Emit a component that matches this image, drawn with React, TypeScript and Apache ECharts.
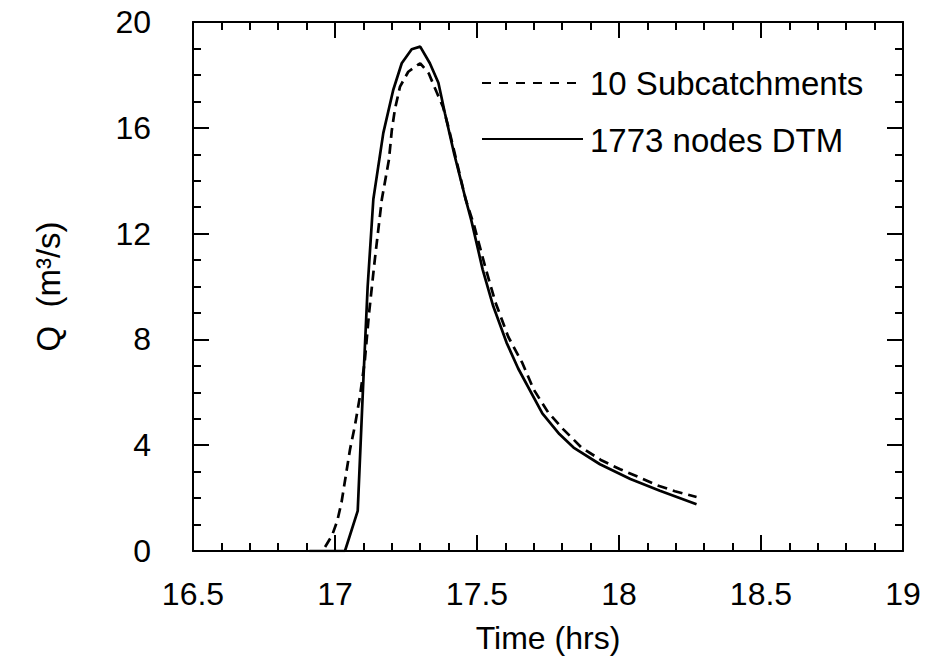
import React, { useEffect, useRef } from "react";
import * as echarts from "echarts";

const timeSub = [16.965, 16.99, 17.008, 17.023, 17.053, 17.07, 17.088, 17.105, 17.12, 17.14, 17.165, 17.19, 17.2, 17.211, 17.229, 17.258, 17.3, 17.33, 17.357, 17.38, 17.4, 17.42, 17.46, 17.49, 17.53, 17.565, 17.61, 17.66, 17.7, 17.75, 17.804, 17.868, 17.938, 18.004, 18.068, 18.133, 18.197, 18.273];
const qSub = [0.15, 0.6, 1.14, 1.84, 3.85, 4.73, 5.86, 7.2, 9.0, 11.0, 13.3, 14.8, 15.9, 16.7, 17.56, 18.12, 18.44, 18.06, 17.37, 16.8, 16.0, 15.1, 13.3, 12.3, 10.7, 9.4, 8.1, 7.1, 6.1, 5.25, 4.6, 3.91, 3.43, 3.09, 2.8, 2.49, 2.26, 2.04];

const timeDtm = [16.91, 17.035, 17.08, 17.1, 17.115, 17.135, 17.17, 17.205, 17.235, 17.27, 17.3, 17.334, 17.364, 17.387, 17.42, 17.46, 17.48, 17.52, 17.557, 17.604, 17.645, 17.73, 17.79, 17.84, 17.933, 18.04, 18.144, 18.273];
const qDtm = [0, 0, 1.52, 6.5, 10.0, 13.3, 15.8, 17.43, 18.44, 18.97, 19.07, 18.44, 17.7, 16.55, 15.0, 13.3, 12.5, 10.64, 9.26, 7.88, 6.9, 5.2, 4.42, 3.91, 3.28, 2.72, 2.28, 1.77];

const seriesNames = ["10 Subcatchments", "1773 nodes DTM"];
const xTitle = "Time (hrs)";
const yTitle = "Q  (m³/s)";

const FONT = "'Liberation Sans', Arial, Helvetica, sans-serif";

export default function App() {
  const ref = useRef<HTMLDivElement>(null);
  useEffect(() => {
    if (!ref.current) return;
    const chart = echarts.init(ref.current, undefined, { renderer: "svg" });
    const axisCommon = {
      axisLine: { show: true, onZero: false, lineStyle: { color: "#000", width: 2 } },
      axisTick: { show: true, inside: true, length: 16, lineStyle: { color: "#000", width: 2 } },
      minorTick: { show: true, length: 8, lineStyle: { color: "#000", width: 2 } },
      splitLine: { show: false },
    };
    chart.setOption({
      animation: false,
      backgroundColor: "#fff",
      grid: { left: 193, right: 22, top: 22, bottom: 107, containLabel: false },
      xAxis: [
        {
          type: "value", min: 16.5, max: 19, interval: 0.5,
          ...axisCommon,
          minorTick: { ...axisCommon.minorTick, splitNumber: 5 },
          axisLabel: { color: "#000", fontSize: 32, fontFamily: FONT, margin: 27 },
          name: xTitle, nameLocation: "middle", nameGap: 71,
          nameTextStyle: { color: "#000", fontSize: 32, fontFamily: FONT },
        },
        {
          type: "value", position: "top", min: 16.5, max: 19, interval: 0.5,
          ...axisCommon,
          minorTick: { ...axisCommon.minorTick, splitNumber: 5 },
          axisLabel: { show: false },
        },
      ],
      yAxis: [
        {
          type: "value", min: 0, max: 20, interval: 4,
          ...axisCommon,
          minorTick: { ...axisCommon.minorTick, splitNumber: 4 },
          axisLabel: { color: "#000", fontSize: 32, fontFamily: FONT, margin: 42 },
          name: yTitle, nameLocation: "middle", nameGap: 128,
          nameTextStyle: { color: "#000", fontSize: 33, fontFamily: FONT },
        },
        {
          type: "value", position: "right", min: 0, max: 20, interval: 4,
          ...axisCommon,
          minorTick: { ...axisCommon.minorTick, splitNumber: 4 },
          axisLabel: { show: false },
        },
      ],
      series: [
        {
          name: seriesNames[0], type: "line", showSymbol: false, symbol: "none",
          data: timeSub.map((t, i) => [t, qSub[i]]),
          lineStyle: { color: "#000", width: 2.7, type: [10, 6] },
        },
        {
          name: seriesNames[1], type: "line", showSymbol: false, symbol: "none",
          data: timeDtm.map((t, i) => [t, qDtm[i]]),
          lineStyle: { color: "#000", width: 2.7, type: "solid" },
        },
      ],
      graphic: [
        { type: "line", shape: { x1: 482, y1: 83, x2: 583, y2: 83 }, style: { stroke: "#000", lineWidth: 2, lineDash: [9, 8] } },
        { type: "text", x: 590, y: 83, style: { text: seriesNames[0], fill: "#000", font: `33px ${FONT}`, verticalAlign: "middle" } },
        { type: "line", shape: { x1: 482, y1: 139, x2: 583, y2: 139 }, style: { stroke: "#000", lineWidth: 2 } },
        { type: "text", x: 590, y: 140, style: { text: seriesNames[1], fill: "#000", font: `33px ${FONT}`, verticalAlign: "middle" } },
      ],
    });
    return () => chart.dispose();
  }, []);
  return <div ref={ref} style={{ width: 925, height: 659, position: "absolute", left: 0, top: 0 }} />;
}
